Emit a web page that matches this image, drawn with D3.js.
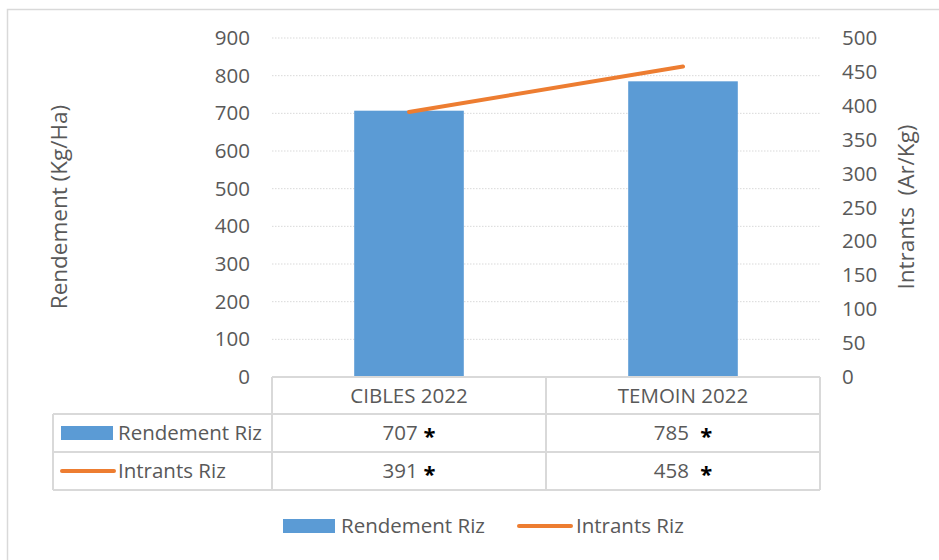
<!DOCTYPE html>
<html>
<head>
<meta charset="utf-8">
<script src="https://cdn.jsdelivr.net/npm/d3@7"></script>
<style>
  body { margin: 0; background: #fff; }
  svg text { font-family: "Open Sans", "Noto Sans", sans-serif; fill: #595959; }
</style>
</head>
<body>
<script>
// chart values
var categories = ["CIBLES 2022", "TEMOIN 2022"];
var rendement = [707, 785];
var intrants = [391, 458];
var leftTicks = [0, 100, 200, 300, 400, 500, 600, 700, 800, 900];
var rightTicks = [0, 50, 100, 150, 200, 250, 300, 350, 400, 450, 500];
var seriesNames = ["Rendement Riz", "Intrants Riz"];
var starGap = ["", " "];

var width = 939, height = 560;
var plot = { left: 272, right: 820, top: 38, bottom: 377 };
var blue = "#5b9bd5", orange = "#ed7d31", grid = "#d9d9d9";
var fs = "20.5px";

var svg = d3.select("body").append("svg")
    .attr("width", width)
    .attr("height", height);

// chart frame
svg.append("rect")
    .attr("x", 7.5).attr("y", 9.5)
    .attr("width", 940).attr("height", 560)
    .attr("fill", "none").attr("stroke", grid).attr("stroke-width", 1.5);

var x = d3.scaleBand().domain(categories).range([plot.left, plot.right]);
var yL = d3.scaleLinear().domain([0, 900]).range([plot.bottom, plot.top]);
var yR = d3.scaleLinear().domain([0, 500]).range([plot.bottom, plot.top]);

// gridlines
svg.append("g").selectAll("line")
    .data(leftTicks.slice(1))
    .enter().append("line")
    .attr("x1", plot.left).attr("x2", plot.right)
    .attr("y1", function (d) { return yL(d); })
    .attr("y2", function (d) { return yL(d); })
    .attr("stroke", grid).attr("stroke-dasharray", "1.5,1.5");

// axes
var axL = svg.append("g")
    .attr("transform", "translate(" + (plot.left - 22) + ",0)")
    .call(d3.axisLeft(yL).tickValues(leftTicks).tickSize(0).tickPadding(0));
var axR = svg.append("g")
    .attr("transform", "translate(" + (plot.right + 22) + ",0)")
    .call(d3.axisRight(yR).tickValues(rightTicks).tickSize(0).tickPadding(0));
[axL, axR].forEach(function (ax) {
    ax.select(".domain").remove();
    ax.selectAll("text").style("font-size", fs).attr("fill", "#595959")
        .style("font-family", "\"Open Sans\", sans-serif");
});

svg.append("text")
    .attr("transform", "translate(67,207) rotate(-90)")
    .attr("text-anchor", "middle")
    .style("font-size", "22.5px")
    .text("Rendement (Kg/Ha)");
svg.append("text")
    .attr("transform", "translate(914,207) rotate(-90)")
    .attr("text-anchor", "middle")
    .style("font-size", "22.5px")
    .style("white-space", "pre")
    .text("Intrants  (Ar/Kg)");

// bars
var barW = x.bandwidth() * 0.4;
svg.append("g").selectAll("rect")
    .data(categories)
    .enter().append("rect")
    .attr("x", function (d) { return x(d) + (x.bandwidth() - barW) / 2; })
    .attr("y", function (d, i) { return yL(rendement[i]); })
    .attr("width", barW)
    .attr("height", function (d, i) { return yL(0) - yL(rendement[i]); })
    .attr("fill", blue);

// line
var line = d3.line()
    .x(function (d, i) { return x(categories[i]) + x.bandwidth() / 2; })
    .y(function (d) { return yR(d); });
svg.append("path")
    .datum(intrants)
    .attr("d", line)
    .attr("fill", "none")
    .attr("stroke", orange)
    .attr("stroke-width", 4)
    .attr("stroke-linecap", "round");

// data table
var rows = [plot.bottom, 414, 452, 490];
var tableLeft = 53;
var tg = svg.append("g").attr("stroke", grid).attr("stroke-width", 2).attr("fill", "none");
tg.append("line").attr("x1", plot.left).attr("x2", plot.right).attr("y1", rows[0]).attr("y2", rows[0]);
rows.slice(1).forEach(function (r) {
    tg.append("line").attr("x1", tableLeft).attr("x2", plot.right).attr("y1", r).attr("y2", r);
});
tg.append("line").attr("x1", tableLeft).attr("x2", tableLeft).attr("y1", rows[1]).attr("y2", rows[3]);
[plot.left].concat(categories.map(function (c) { return x(c) + x.bandwidth(); })).forEach(function (xx) {
    tg.append("line").attr("x1", xx).attr("x2", xx).attr("y1", rows[0]).attr("y2", rows[3]);
});

svg.append("g").selectAll("text")
    .data(categories)
    .enter().append("text")
    .attr("x", function (d) { return x(d) + x.bandwidth() / 2; })
    .attr("y", (rows[0] + rows[1]) / 2)
    .attr("dy", "0.35em")
    .attr("text-anchor", "middle")
    .style("font-size", fs)
    .text(function (d) { return d; });

[rendement, intrants].forEach(function (vals, r) {
    var t = svg.append("g").selectAll("text")
        .data(vals)
        .enter().append("text")
        .attr("x", function (d, i) { return x(categories[i]) + x.bandwidth() / 2; })
        .attr("y", (rows[r + 1] + rows[r + 2]) / 2)
        .attr("dy", "0.35em")
        .attr("text-anchor", "middle")
        .style("font-size", fs)
        .style("white-space", "pre");
    t.append("tspan").text(function (d) { return d; });
    t.append("tspan").style("fill", "#000").style("font-weight", "bold")
        .style("font-size", "22px").attr("dy", 4)
        .text(function (d, i) { return " " + starGap[i] + "*"; });
});

// legend keys
function key(g, i, x0, cy) {
    if (i === 0) {
        g.append("rect").attr("x", x0).attr("y", cy - 7).attr("width", 52).attr("height", 14).attr("fill", blue);
    } else {
        g.append("line").attr("x1", x0 + 1).attr("x2", x0 + 53).attr("y1", cy).attr("y2", cy)
            .attr("stroke", orange).attr("stroke-width", 4).attr("stroke-linecap", "round");
    }
}
seriesNames.forEach(function (name, i) {
    var cy = (rows[i + 1] + rows[i + 2]) / 2;
    key(svg, i, 61, cy);
    svg.append("text").attr("x", 118).attr("y", cy).attr("dy", "0.35em")
        .style("font-size", fs).text(name);
});

// bottom legend
var legendX = [283, 518];
seriesNames.forEach(function (name, i) {
    key(svg, i, legendX[i], 526);
    svg.append("text").attr("x", legendX[i] + 58).attr("y", 526).attr("dy", "0.35em")
        .style("font-size", fs).text(name);
});
</script>
</body>
</html>
